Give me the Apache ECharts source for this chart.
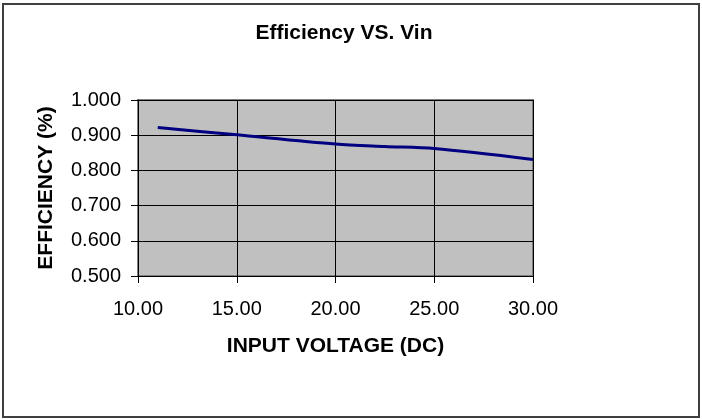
<!DOCTYPE html>
<html>
<head>
<meta charset="utf-8">
<script src="https://cdn.jsdelivr.net/npm/echarts@6/dist/echarts.min.js"></script>
<style>
  html, body { margin: 0; padding: 0; background: #ffffff; }
  #chart { width: 702px; height: 419px; }
</style>
</head>
<body>
<div id="chart"></div>
<script>
const chartTitle = 'Efficiency VS. Vin';
const xAxisName = 'INPUT VOLTAGE (DC)';
const yAxisName = 'EFFICIENCY (%)';
const inputVoltage = [11, 15, 20, 22.5, 25, 30];
const efficiency = [0.922, 0.901, 0.875, 0.868, 0.862, 0.831];
const xTicks = [10, 15, 20, 25, 30];
const yTicks = [0.5, 0.6, 0.7, 0.8, 0.9, 1.0];

const FONT = '"Liberation Sans", Arial, sans-serif';
const chart = echarts.init(document.getElementById('chart'), null, { renderer: 'canvas' });

const points = inputVoltage.map((v, i) => [v, efficiency[i]]);

chart.setOption({
  backgroundColor: '#ffffff',
  animation: false,
  title: {
    text: chartTitle,
    left: 339,
    top: 18,
    textAlign: 'center',
    textStyle: { fontFamily: FONT, fontSize: 21, fontWeight: 'bold', color: '#000' }
  },
  graphic: [{
    type: 'rect',
    shape: { x: 3, y: 4, width: 696, height: 413 },
    style: { fill: 'none', stroke: '#404040', lineWidth: 2 },
    silent: true
  }],
  grid: {
    left: 138, top: 100, right: 169, bottom: 143,
    show: true,
    backgroundColor: '#c0c0c0',
    borderColor: '#808080',
    borderWidth: 2
  },
  xAxis: {
    type: 'value',
    min: xTicks[0],
    max: xTicks[xTicks.length - 1],
    interval: xTicks[1] - xTicks[0],
    name: xAxisName,
    nameLocation: 'middle',
    nameGap: 60,
    nameTextStyle: { fontFamily: FONT, fontSize: 21, fontWeight: 'bold', color: '#000' },
    axisLine: { show: true, onZero: false, lineStyle: { color: '#000', width: 1 } },
    axisTick: { show: true, length: 7, lineStyle: { color: '#000' } },
    axisLabel: {
      fontFamily: FONT, fontSize: 20, color: '#000', margin: 23,
      formatter: v => v.toFixed(2)
    },
    splitLine: { show: true, lineStyle: { color: '#000', width: 1 } }
  },
  yAxis: {
    type: 'value',
    min: yTicks[0],
    max: yTicks[yTicks.length - 1],
    interval: 0.1,
    name: yAxisName,
    nameLocation: 'middle',
    nameGap: 81,
    nameRotate: 90,
    nameTextStyle: { fontFamily: FONT, fontSize: 21, fontWeight: 'bold', color: '#000' },
    axisLine: { show: true, onZero: false, lineStyle: { color: '#000', width: 1 } },
    axisTick: { show: true, length: 7, lineStyle: { color: '#000' } },
    axisLabel: {
      fontFamily: FONT, fontSize: 20, color: '#000', margin: 17,
      formatter: v => v.toFixed(3)
    },
    splitLine: { show: true, lineStyle: { color: '#000', width: 1 } }
  },
  series: [{
    type: 'line',
    data: points,
    smooth: 0.3,
    showSymbol: false,
    symbol: 'none',
    lineStyle: { color: '#000080', width: 3 }
  }]
});
</script>
</body>
</html>
